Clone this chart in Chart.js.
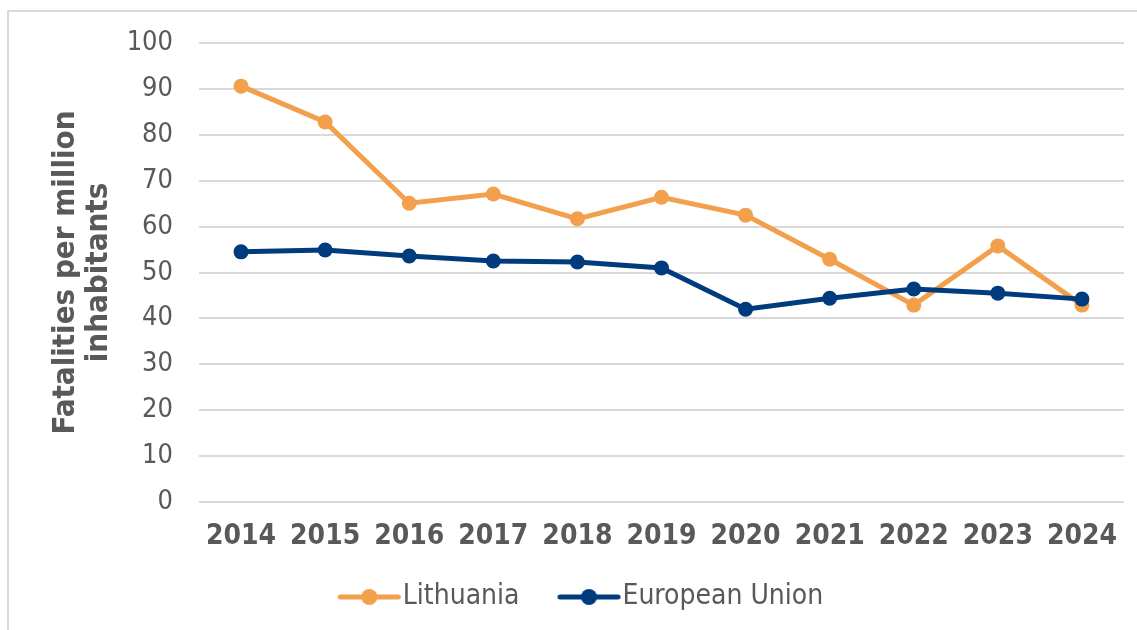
<!DOCTYPE html>
<html>
<head>
<meta charset="utf-8">
<script src="https://cdn.jsdelivr.net/npm/chart.js@4/dist/chart.umd.min.js"></script>
<style>
  body { margin: 0; background: #fff; }
  #wrap { position: relative; width: 1137px; height: 630px; overflow: hidden; }
  #frame { position: absolute; left: 7px; top: 10px; width: 1200px; height: 700px;
           border-top: 2px solid #d9d9d9; border-left: 2px solid #d9d9d9; }
  canvas { position: absolute; left: 0; top: 0; }
</style>
</head>
<body>
<div id="wrap">
  <div id="frame"></div>
  <canvas id="chart" width="1137" height="630"></canvas>
</div>
<script>
// values
const years = ["2014", "2015", "2016", "2017", "2018", "2019", "2020", "2021", "2022", "2023", "2024"];
const lithuania = [90.6, 82.8, 65.1, 67.1, 61.7, 66.4, 62.5, 52.9, 42.9, 55.8, 42.9];
const europeanUnion = [54.5, 54.9, 53.6, 52.5, 52.3, 51.0, 42.0, 44.4, 46.4, 45.5, 44.2];
const yTicks = [0, 10, 20, 30, 40, 50, 60, 70, 80, 90, 100];

const orange = "#F2A04C";
const blue = "#003B7E";
const textGrey = "#595959";
const font = "'DejaVu Sans Condensed', 'DejaVu Sans', sans-serif";

// line + dot marker for the legend, pushed to the right edge of the image
// so it sits right next to the label text
const legendMarker = (color) => {
  const c = document.createElement("canvas");
  c.width = 100;
  c.height = 20;
  const g = c.getContext("2d");
  g.strokeStyle = color;
  g.lineWidth = 5;
  g.lineCap = "round";
  g.beginPath();
  g.moveTo(38.5, 10);
  g.lineTo(96.5, 10);
  g.stroke();
  g.fillStyle = color;
  g.beginPath();
  g.arc(67.5, 10, 8, 0, Math.PI * 2);
  g.fill();
  return c;
};

const ctx = document.getElementById("chart").getContext("2d");
new Chart(ctx, {
  type: "line",
  data: {
    labels: years,
    datasets: [
      {
        label: "Lithuania",
        data: lithuania,
        borderColor: orange,
        backgroundColor: orange,
        borderWidth: 5,
        pointRadius: 7.5,
        pointBorderWidth: 0,
        tension: 0,
        order: 1,
      },
      {
        label: "European Union",
        data: europeanUnion,
        borderColor: blue,
        backgroundColor: blue,
        borderWidth: 5,
        pointRadius: 7.5,
        pointBorderWidth: 0,
        tension: 0,
        order: 0,
      },
    ],
  },
  options: {
    responsive: false,
    animation: false,
    layout: { padding: { left: 14, right: 13, top: 43, bottom: 9 } },
    plugins: {
      tooltip: { enabled: false },
      legend: {
        display: true,
        position: "bottom",
        labels: {
          usePointStyle: true,
          pointStyleWidth: 74,
          padding: 15,
          color: textGrey,
          font: { family: font, size: 28 },
          generateLabels: (chart) =>
            chart.data.datasets.map((ds, i) => ({
              text: ds.label,
              fillStyle: ds.borderColor,
              strokeStyle: ds.borderColor,
              fontColor: textGrey,
              pointStyle: legendMarker(ds.borderColor),
              datasetIndex: i,
              hidden: false,
              lineWidth: 0,
            })),
        },
      },
    },
    scales: {
      x: {
        offset: true,
        grid: { display: false, drawTicks: false },
        border: { display: false },
        ticks: {
          color: textGrey,
          padding: 18,
          maxRotation: 0,
          font: { family: font, size: 28, weight: "bold" },
        },
        afterFit: (scale) => { scale.height = 66; },
      },
      y: {
        min: 0,
        max: 100,
        afterBuildTicks: (scale) => { scale.ticks = yTicks.map((v) => ({ value: v })); },
        grid: { color: "#d9d9d9", lineWidth: 2, drawTicks: false },
        border: { display: false },
        ticks: {
          color: textGrey,
          padding: 26,
          font: { family: font, size: 27 },
        },
        title: {
          display: true,
          text: ["Fatalities per million", "inhabitants"],
          color: textGrey,
          padding: { top: 35, bottom: 0 },
          font: { family: font, size: 31, weight: "bold", lineHeight: 1.065 },
        },
        afterFit: (scale) => { scale.width = 185; },
      },
    },
  },
});
</script>
</body>
</html>
